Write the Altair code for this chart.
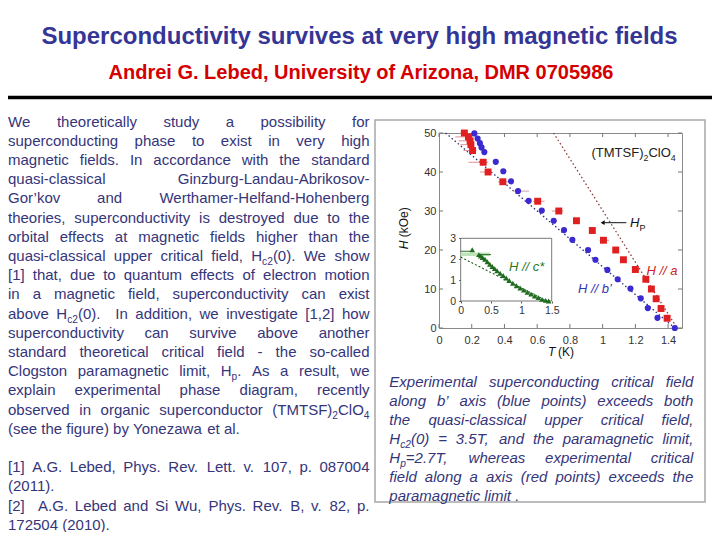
import re
import altair as alt
import pandas as pd

# ---------------- data ----------------
blue_T = [0.216, 0.236, 0.25, 0.26, 0.277, 0.347, 0.393, 0.44, 0.483, 0.548, 0.628, 0.701,
          0.764, 0.815, 0.911, 0.956, 1.029, 1.092, 1.170, 1.233, 1.276, 1.335, 1.441]
blue_H = [49.9, 48.6, 47.4, 46.3, 45.1, 42.6, 40.2, 37.6, 35.1, 32.6, 30.1, 27.5,
          25.1, 22.6, 20.0, 17.5, 14.9, 12.5, 10.1, 7.6, 5.1, 2.6, 0.0]
blue_err_H = [35.1, 27.5]
blue_err_lo = [0.45, 0.685]
blue_err_hi = [0.55, 0.72]

red_T = [0.155, 0.18, 0.19, 0.195, 0.205, 0.27, 0.30, 0.39, 0.603, 0.732, 0.840, 0.937,
         1.005, 1.080, 1.127, 1.200, 1.264, 1.298, 1.327, 1.357, 1.394]
red_H = [50, 49, 48, 47, 45.5, 42.5, 40, 37.5, 32.5, 30, 27.5, 25,
         22.5, 20, 17.5, 15, 12.5, 10, 7.5, 5, 2.5]
red_lo = [0.13, 0.10, 0.12, 0.13, 0.15, 0.18, 0.25, 0.36, 0.575, 0.69, 0.82, 0.92,
          0.98, 1.06, 1.11, 1.18, 1.25, 1.285, 1.315, 1.345, 1.38]
red_hi = [0.17, 0.19, 0.20, 0.21, 0.23, 0.30, 0.32, 0.43, 0.645, 0.76, 0.86, 0.955,
          1.04, 1.10, 1.15, 1.225, 1.28, 1.31, 1.34, 1.37, 1.41]

orbital_T = [0.04, 1.44]
orbital_H = [50, 0]
pauli_T = [0.70, 1.455]
pauli_H = [50, 0]
arrow_T = [1.145, 1.0]
arrow_H = [27, 27]

x_ticks = [0, 0.2, 0.4, 0.6, 0.8, 1.0, 1.2, 1.4]
y_ticks = [0, 10, 20, 30, 40, 50]

# inset: H // c*
c_T = [0.19, 0.30, 0.33, 0.36, 0.40, 0.44, 0.48, 0.52, 0.56, 0.60, 0.65, 0.70, 0.75, 0.80,
       0.86, 0.92, 0.98, 1.04, 1.10, 1.16, 1.22, 1.28, 1.34, 1.40, 1.45]
c_H = [2.45, 2.22, 2.15, 2.08, 2.0, 1.88, 1.76, 1.65, 1.55, 1.45, 1.33, 1.22, 1.10, 0.98,
       0.85, 0.73, 0.62, 0.52, 0.42, 0.33, 0.24, 0.16, 0.08, 0.03, 0.0]
c_fit_T = [0.0, 1.42]
c_fit_H = [2.1, 0.0]
c_band_T = [0.0, 0.48]
c_band_H = [2.15, 2.32]
c_err_H = [2.38, 2.22]
c_err_lo = [0.0, 0.30]
c_err_hi = [0.19, 0.50]
inset_x_ticks = [0, 0.5, 1, 1.5]
inset_y_ticks = [0, 1, 2, 3]

title = "Superconductivity survives at very high magnetic fields"
subtitle = "Andrei G. Lebed, University of Arizona, DMR 0705986"

body_lines = [
    "We theoretically study a possibility for",
    "superconducting phase to exist in very high",
    "magnetic fields. In accordance with the standard",
    "quasi-classical Ginzburg-Landau-Abrikosov-",
    "Gor\u2019kov and Werthamer-Helfand-Hohenberg",
    "theories, superconductivity is destroyed due to the",
    "orbital effects at magnetic fields higher than the",
    "quasi-classical upper critical field, H_{c2}(0). We show",
    "[1] that, due to quantum effects of electron motion",
    "in a magnetic field, superconductivity can exist",
    "above H_{c2}(0).  In addition, we investigate [1,2] how",
    "superconductivity can survive above another",
    "standard theoretical critical field - the so-called",
    "Clogston paramagnetic limit, H_{p}. As a result, we",
    "explain experimental phase diagram, recently",
    "observed in organic superconductor (TMTSF)_{2}ClO_{4}",
    "(see the figure) by Yonezawa et al.",
    "",
    "[1] A.G. Lebed, Phys. Rev. Lett. v. 107, p. 087004",
    "(2011).",
    "[2]  A.G. Lebed and Si Wu, Phys. Rev. B, v. 82, p.",
    "172504 (2010).",
]
body_justify = [1] * 16 + [0, 0, 1, 0, 1, 0]

caption_lines = [
    "Experimental superconducting critical field",
    "along b\u2019 axis (blue points) exceeds both",
    "the quasi-classical upper critical field,",
    "H_{c2}(0) = 3.5T, and the paramagnetic limit,",
    "H_{p}=2.7T, whereas experimental critical",
    "field along a axis (red points) exceeds the",
    "paramagnetic limit .",
]
caption_justify = [1, 1, 1, 1, 1, 1, 0]

# ---------------- layout constants ----------------
FONT = "Liberation Sans"
OX, OY = 439, 133          # page position of plot origin
W, H = 243, 195            # main plot area
BODY_C = "#35357a"

AW = {' ': 278, '!': 278, '"': 355, '#': 556, '$': 556, '%': 889, '&': 667, "'": 191,
      '(': 333, ')': 333, '*': 389, '+': 584, ',': 278, '-': 333, '.': 278, '/': 278,
      ':': 278, ';': 278, '=': 584, '?': 556, '@': 1015, '[': 278, ']': 278, '\u2019': 222,
      'A': 667, 'B': 667, 'C': 722, 'D': 722, 'E': 667, 'F': 611, 'G': 778, 'H': 722,
      'I': 278, 'J': 500, 'K': 667, 'L': 556, 'M': 833, 'N': 722, 'O': 778, 'P': 667,
      'Q': 778, 'R': 722, 'S': 667, 'T': 611, 'U': 722, 'V': 667, 'W': 944, 'X': 667,
      'Y': 667, 'Z': 611, 'a': 556, 'b': 556, 'c': 500, 'd': 556, 'e': 556, 'f': 278,
      'g': 556, 'h': 556, 'i': 222, 'j': 222, 'k': 500, 'l': 222, 'm': 833, 'n': 556,
      'o': 556, 'p': 556, 'q': 556, 'r': 333, 's': 500, 't': 278, 'u': 556, 'v': 500,
      'w': 722, 'x': 500, 'y': 500, 'z': 500}
for d in '0123456789':
    AW[d] = 556


def tw(text, size):
    return sum(AW.get(ch, 556) for ch in text) * size / 1000.0


def parse(word):
    out = []
    for p in re.split(r'(_\{[^}]*\})', word):
        if not p:
            continue
        if p.startswith('_{'):
            out.append((p[2:-1], True))
        else:
            out.append((p, False))
    return out


rows = []


def add(x, y, t, s, c, st='normal', wt='normal', al='left', ang=0):
    rows.append(dict(x=x - OX, y=y - OY, t=t, s=s, c=c, st=st, wt=wt, al=al, ang=ang))


def layout(line, x0, x1, y, size, color, style, justify):
    if not line:
        return
    words = line.split(' ')
    sub = size * 0.68
    segs = [parse(w) for w in words]
    widths = [sum(tw(t, sub if s else size) for t, s in sg) for sg in segs]
    if justify and len(words) > 1:
        gap = (x1 - x0 - sum(widths)) / (len(words) - 1)
    else:
        gap = tw(' ', size)
    x = x0
    for sg, ww in zip(segs, widths):
        cx = x
        for t, s in sg:
            sz = sub if s else size
            add(cx, y + (size * 0.27 if s else 0), t, sz, color, style)
            cx += tw(t, sz)
        x += ww + gap


# header
add(359.5, 43.5, title, 24, "#353595", wt='bold', al='center')
add(361, 79, subtitle, 20, "#d40000", wt='bold', al='center')

# left column
for i, (ln, j) in enumerate(zip(body_lines, body_justify)):
    layout(ln, 8, 369.5, 126.5 + 19.2 * i, 15, BODY_C, 'normal', j)

# caption
for i, (ln, j) in enumerate(zip(caption_lines, caption_justify)):
    layout(ln, 389.3, 693.3, 386.7 + 19.1 * i, 15, BODY_C, 'italic', j)

# chart annotations
layout("(TMTSF)_{2}ClO_{4}", 591.5, 0, 157.4, 13, "#222222", 'normal', 0)
add(630, 227, "H", 13, "#111111", st='italic')
add(639.5, 230.5, "P", 9, "#111111")
add(646.5, 274.5, "H // a", 13, "#cc2222", st='italic')
add(578, 292.8, "H // b\u2019", 13, "#3333b0", st='italic')
add(509, 271, "H // c*", 13, "#2a7a2a", st='italic')
add(548, 356, "T", 12, "#111111", st='italic')
add(558, 356, "(K)", 12, "#111111")
add(407.8, 249.3, "H", 12, "#111111", st='italic', ang=270)
add(407.8, 237.3, "(kOe)", 12, "#111111", ang=270)

text_df = pd.DataFrame(rows)

# ---------------- main plot ----------------
mx = alt.Scale(domain=[0, 1.485], nice=False, zero=False)
my = alt.Scale(domain=[0, 50], nice=False, zero=False)
ax_mx = alt.Axis(values=x_ticks, format='.1~f', tickSize=0, domain=False, grid=False,
                 labelPadding=6, labelFontSize=11, labelFont=FONT, labelColor='#333333',
                 labelFlush=False, title=None)
ax_my = alt.Axis(values=y_ticks, format='d', tickSize=0, domain=False, grid=False,
                 labelPadding=3, labelFontSize=11, labelFont=FONT, labelColor='#333333',
                 title=None)


def MX(f):
    return alt.X(f, type='quantitative', scale=mx, axis=ax_mx)


def MY(f):
    return alt.Y(f, type='quantitative', scale=my, axis=ax_my)


orb_df = pd.DataFrame({'T': orbital_T, 'H': orbital_H})
pau_df = pd.DataFrame({'T': pauli_T, 'H': pauli_H})
red_df = pd.DataFrame({'T': red_T, 'H': red_H, 'lo': red_lo, 'hi': red_hi})
blue_df = pd.DataFrame({'T': blue_T, 'H': blue_H})
berr_df = pd.DataFrame({'H': blue_err_H, 'lo': blue_err_lo, 'hi': blue_err_hi})
arr_df = pd.DataFrame({'T': arrow_T, 'H': arrow_H})
xt_df = pd.DataFrame({'v': x_ticks})
yt_df = pd.DataFrame({'v': y_ticks})

main = alt.layer(
    alt.Chart(xt_df).mark_rule(color='#777777', strokeWidth=1).encode(
        x=MX('v'), y=alt.value(H), y2=alt.value(H - 4)),
    alt.Chart(xt_df).mark_rule(color='#777777', strokeWidth=1).encode(
        x=MX('v'), y=alt.value(0), y2=alt.value(4)),
    alt.Chart(yt_df).mark_rule(color='#777777', strokeWidth=1).encode(
        y=MY('v'), x=alt.value(0), x2=alt.value(4)),
    alt.Chart(yt_df).mark_rule(color='#777777', strokeWidth=1).encode(
        y=MY('v'), x=alt.value(W), x2=alt.value(W - 4)),
    alt.Chart(orb_df).mark_line(color='#2b2b80', strokeWidth=1.3, strokeDash=[1.5, 2.5]).encode(
        x=MX('T'), y=MY('H')),
    alt.Chart(pau_df).mark_line(color='#8b3a3a', strokeWidth=1.3, strokeDash=[1.5, 2.5]).encode(
        x=MX('T'), y=MY('H')),
    alt.Chart(red_df).mark_rule(color='#e09090', strokeWidth=1).encode(
        x=MX('lo'), x2='hi', y=MY('H')),
    alt.Chart(berr_df).mark_rule(color='#d0a0b0', strokeWidth=1).encode(
        x=MX('lo'), x2='hi', y=MY('H')),
    alt.Chart(blue_df).mark_point(shape='circle', filled=True, size=38, color='#3a2ad0', opacity=1).encode(
        x=MX('T'), y=MY('H')),
    alt.Chart(red_df).mark_point(shape='square', filled=True, size=48, color='#e02020', opacity=1).encode(
        x=MX('T'), y=MY('H')),
    alt.Chart(arr_df).mark_line(color='#111111', strokeWidth=1).encode(
        x=MX('T'), y=MY('H')),
    alt.Chart(arr_df.iloc[[1]]).mark_point(shape='triangle-left', filled=True, size=22,
                                            color='#111111', opacity=1).encode(
        x=MX('T'), y=MY('H')),
)

# ---------------- inset ----------------
ix = alt.Scale(domain=[0, 1.5], range=[21.7, 112.7], nice=False, zero=False)
iy = alt.Scale(domain=[0, 3], range=[168, 105.3], nice=False, zero=False)
ax_ix = alt.Axis(values=inset_x_ticks, format='.1~f', orient='bottom', offset=-27, tickSize=2,
                 tickColor='#555555', domain=False, grid=False, labelPadding=2, labelFontSize=10.5,
                 labelFont=FONT, labelColor='#333333', labelFlush=False, title=None)
ax_iy = alt.Axis(values=inset_y_ticks, format='d', orient='left', offset=-21.7, tickSize=2,
                 tickColor='#555555', domain=False, grid=False, labelPadding=3, labelFontSize=10.5,
                 labelFont=FONT, labelColor='#333333', labelFlush=False, title=None)


def IX(f):
    return alt.X(f, type='quantitative', scale=ix, axis=ax_ix)


def IY(f):
    return alt.Y(f, type='quantitative', scale=iy, axis=ax_iy)


frame_df = pd.DataFrame({'x0': [inset_x_ticks[0]], 'x1': [inset_x_ticks[-1]],
                         'y0': [inset_y_ticks[0]], 'y1': [inset_y_ticks[-1]]})
band_df = pd.DataFrame({'x0': [c_band_T[0]], 'x1': [c_band_T[1]],
                        'y0': [c_band_H[0]], 'y1': [c_band_H[1]]})
cfit_df = pd.DataFrame({'T': c_fit_T, 'H': c_fit_H})
cerr_df = pd.DataFrame({'H': c_err_H, 'lo': c_err_lo, 'hi': c_err_hi})
c_df = pd.DataFrame({'T': c_T, 'H': c_H})

inset = alt.layer(
    alt.Chart(frame_df).mark_rect(fill='white', stroke='#555555', strokeWidth=0.8).encode(
        x=IX('x0'), x2='x1', y=IY('y0'), y2='y1'),
    alt.Chart(band_df).mark_rect(fill='#bfe3b8').encode(
        x=IX('x0'), x2='x1', y=IY('y0'), y2='y1'),
    alt.Chart(cfit_df).mark_line(color='#1f5f1f', strokeWidth=1.1, strokeDash=[2, 2]).encode(
        x=IX('T'), y=IY('H')),
    alt.Chart(cerr_df).mark_rule(color='#2e6e2e', strokeWidth=1).encode(
        x=IX('lo'), x2='hi', y=IY('H')),
    alt.Chart(c_df).mark_point(shape='triangle-up', filled=True, size=32, color='#1f6b1f', opacity=1).encode(
        x=IX('T'), y=IY('H')),
)

# ---------------- decorations ----------------
one = pd.DataFrame({'k': [0]})
box = alt.Chart(one).mark_rect(fillOpacity=0, stroke='#a8a8a8', strokeWidth=1.5).encode(
    x=alt.value(375 - OX), x2=alt.value(705 - OX), y=alt.value(120 - OY), y2=alt.value(502 - OY))
hline = alt.Chart(one).mark_rule(color='#000000', strokeWidth=3.5).encode(
    x=alt.value(8 - OX), x2=alt.value(712 - OX), y=alt.value(97.5 - OY))

text_layers = []
for (st, wt, al, ang), g in text_df.groupby(['st', 'wt', 'al', 'ang']):
    text_layers.append(
        alt.Chart(g.reset_index(drop=True)).mark_text(
            align=al, baseline='alphabetic', font=FONT, fontStyle=st, fontWeight=wt,
            angle=float(ang)).encode(
            x=alt.X('x:Q', scale=None, axis=None),
            y=alt.Y('y:Q', scale=None, axis=None),
            text='t:N',
            size=alt.Size('s:Q', scale=None, legend=None),
            color=alt.Color('c:N', scale=None, legend=None),
        )
    )

chart = alt.layer(box, hline, main, inset, *text_layers).resolve_scale(
    x='independent', y='independent'
).properties(
    width=W, height=H,
    autosize=alt.AutoSizeParams(type='none'),
    padding={'left': OX - 8, 'top': OY - 8, 'right': 704 - (OX - 8) - W, 'bottom': 524 - (OY - 8) - H},
    background='white',
).configure_view(stroke='#8a8a8a', strokeWidth=1)

chart.save("out.html", embed_options={"renderer": "svg", "actions": False})
